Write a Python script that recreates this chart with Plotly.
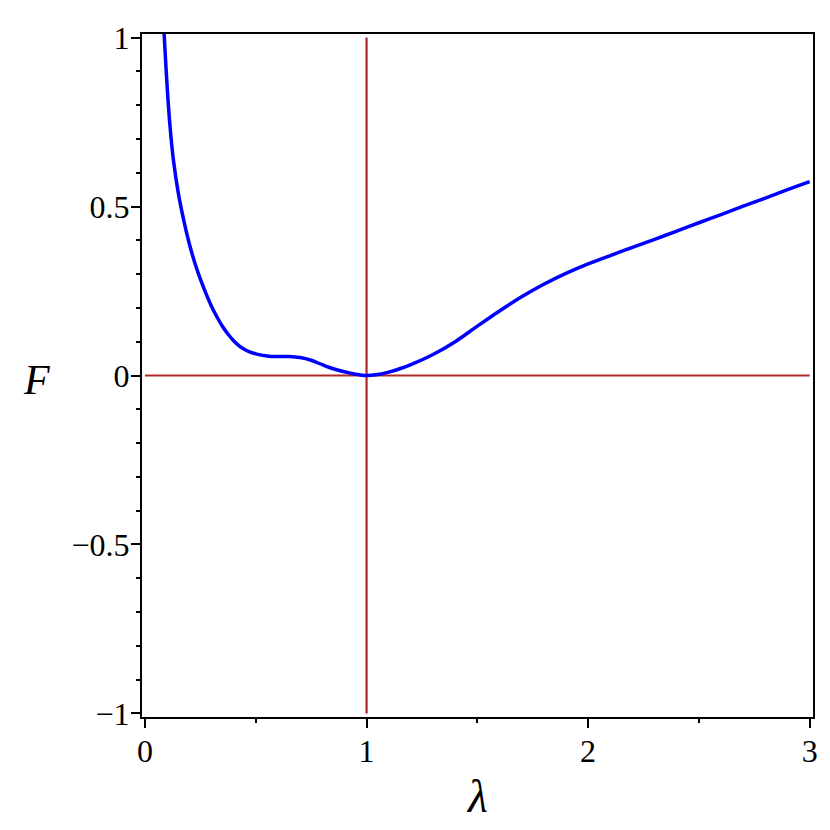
import plotly.graph_objects as go

# F(lambda) curve
lam = [0.083, 0.093, 0.102, 0.113, 0.128, 0.150, 0.180, 0.200, 0.225, 0.250,
       0.275, 0.300, 0.325, 0.350, 0.375, 0.400, 0.425, 0.450, 0.475, 0.500,
       0.550, 0.600, 0.650, 0.700, 0.750, 0.800, 0.850, 0.900, 0.950, 1.000,
       1.050, 1.100, 1.150, 1.200, 1.300, 1.400, 1.500, 1.600, 1.700, 1.800,
       1.900, 2.000, 2.100, 2.200, 2.300, 2.400, 2.500, 2.600, 2.700, 2.800,
       2.900, 3.000]
F = [1.050, 0.932, 0.834, 0.737, 0.639, 0.541, 0.444, 0.390, 0.333, 0.285,
     0.243, 0.205, 0.173, 0.145, 0.122, 0.103, 0.088, 0.077, 0.069, 0.064,
     0.058, 0.056, 0.056, 0.053, 0.045, 0.032, 0.020, 0.011, 0.004, 0.000,
     0.003, 0.010, 0.020, 0.032, 0.062, 0.100, 0.146, 0.191, 0.233, 0.270,
     0.302, 0.330, 0.355, 0.379, 0.403, 0.427, 0.452, 0.476, 0.501, 0.525,
     0.550, 0.574]

# reference lines
hline_x = [0, 3]
hline_y = [0, 0]
vline_x = [1, 1]
vline_y = [-1, 1]

xticks = [0, 1, 2, 3]
xticktext = ["0", "1", "2", "3"]
yticks = [-1, -0.5, 0, 0.5, 1]
yticktext = ["\u22121", "\u22120.5", "0", "0.5", "1"]

red = "rgb(178,40,40)"
serif = "Liberation Serif, Times New Roman, serif"

fig = go.Figure()
fig.add_trace(go.Scatter(x=hline_x, y=hline_y, mode="lines",
                         line=dict(color=red, width=2.2), showlegend=False))
fig.add_trace(go.Scatter(x=vline_x, y=vline_y, mode="lines",
                         line=dict(color=red, width=2.2), showlegend=False))
fig.add_trace(go.Scatter(x=lam, y=F, mode="lines",
                         line=dict(color="#0000FF", width=3.5, shape="spline", smoothing=0.9),
                         showlegend=False))

tickfont = dict(family=serif, size=32, color="black")

fig.update_layout(
    width=822, height=822,
    margin=dict(l=134, r=15, t=19, b=113),
    paper_bgcolor="white", plot_bgcolor="white",
    xaxis=dict(range=[-0.0135, 3.015], tickvals=xticks, ticktext=xticktext,
               showline=True, linecolor="black", linewidth=2, mirror=True,
               ticks="outside", ticklen=9, tickwidth=1.5, tickcolor="black",
               showgrid=False, zeroline=False, tickfont=tickfont,
               ticklabelstandoff=-4,
               minor=dict(dtick=0.5, tick0=0, ticks="outside", ticklen=4,
                          tickwidth=1.5, tickcolor="black", showgrid=False)),
    yaxis=dict(range=[-1.0105, 1.0105], tickvals=yticks, ticktext=yticktext,
               showline=True, linecolor="black", linewidth=2, mirror=True,
               ticks="outside", ticklen=9, tickwidth=1.5, tickcolor="black",
               showgrid=False, zeroline=False, tickfont=tickfont,
               ticklabelstandoff=-5,
               minor=dict(dtick=0.1, tick0=0, ticks="outside", ticklen=4,
                          tickwidth=1.5, tickcolor="black", showgrid=False)),
    annotations=[
        dict(text="<i>F</i>", x=-0.1575, y=0.4928, xref="paper", yref="paper",
             showarrow=False, xanchor="center", yanchor="middle",
             font=dict(family=serif, size=42, color="black")),
        dict(text="<i>\u03bb</i>", x=0.4993, y=-0.116, xref="paper", yref="paper",
             showarrow=False, xanchor="center", yanchor="middle",
             font=dict(family=serif, size=46, color="black")),
    ],
)

fig.write_html("out.html")
